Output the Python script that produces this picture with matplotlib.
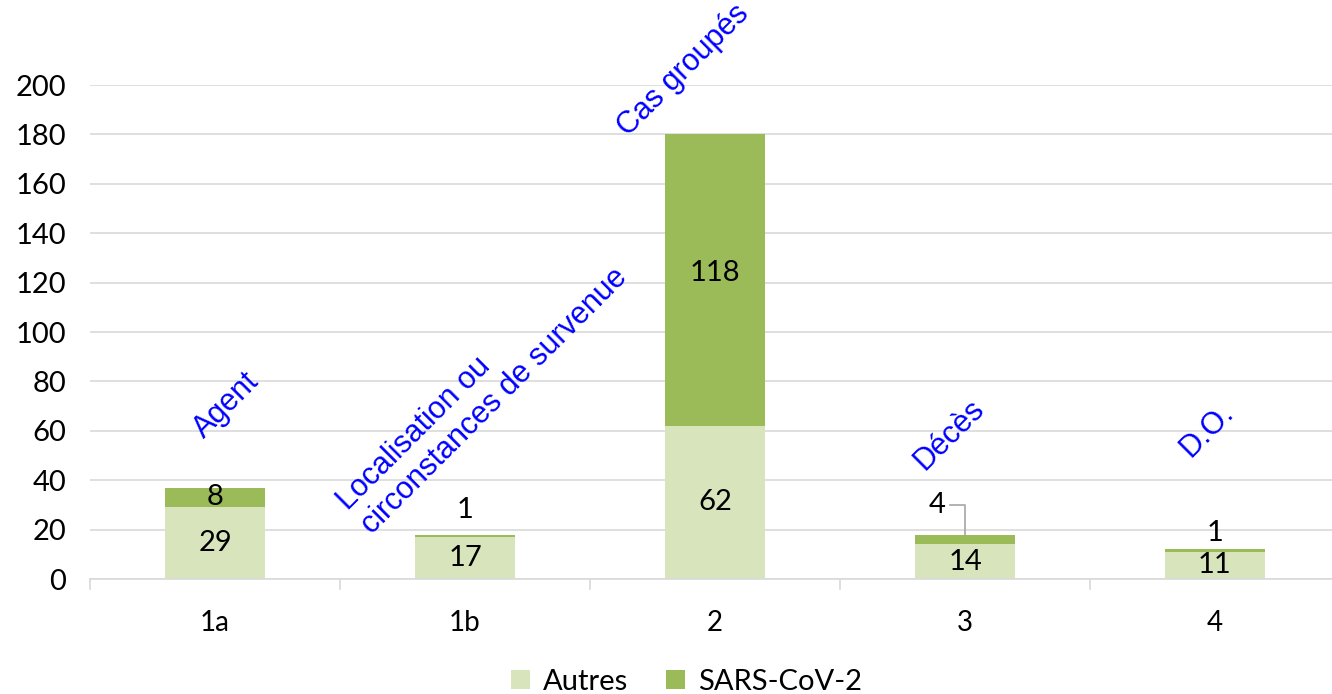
import matplotlib
matplotlib.use('Agg')
import matplotlib.pyplot as plt
import numpy as np

plt.rcParams['font.family'] = ['Lato', 'DejaVu Sans']

categories = ['1a', '1b', '2', '3', '4']
autres = [29, 17, 62, 14, 11]
sars = [8, 1, 118, 4, 1]
themes = ['Agent', 'Localisation ou\ncirconstances de survenue', 'Cas groupés', 'Décès', 'D.O.']

C_LIGHT = '#D8E4BC'
C_DARK = '#9BBB59'
GRID = '#D9D9D9'

fig = plt.figure(figsize=(13.32, 6.94), dpi=100)
ax = fig.add_axes([0.0676, 0.1657, 0.9384, 0.7118])

x = np.arange(len(categories))
ax.bar(x, autres, width=0.4, color=C_LIGHT, label='Autres', zorder=2)
ax.bar(x, sars, width=0.4, bottom=autres, color=C_DARK, label='SARS-CoV-2', zorder=2)

ax.set_xlim(-0.5, len(categories) - 0.5)
ax.set_ylim(0, 200)
ax.set_yticks(np.arange(0, 201, 20))
ax.yaxis.grid(True, color=GRID, linewidth=1.2, zorder=0)
ax.set_axisbelow(True)
for s in ['top', 'right', 'left']:
    ax.spines[s].set_visible(False)
ax.spines['bottom'].set_color(GRID)
ax.spines['bottom'].set_linewidth(1.2)
ax.tick_params(axis='y', length=0, labelsize=21, pad=17)
ax.set_xticks(x)
ax.set_xticklabels(categories, fontsize=20)
ax.tick_params(axis='x', length=0, pad=22)
# traits de séparation des catégories
for b in np.arange(-0.5, len(categories), 1.0):
    ax.plot([b, b], [0, -4], color=GRID, lw=1.2, clip_on=False)

# étiquettes de valeurs
fs = 21
for i in range(len(categories)):
    ax.text(x[i], autres[i] / 2, str(autres[i]), ha='center', va='center', fontsize=fs, zorder=3)
# SARS-CoV-2
ax.text(x[0], autres[0] + sars[0] / 2, str(sars[0]), ha='center', va='center', fontsize=fs, zorder=3)
ax.text(x[2], autres[2] + sars[2] / 2 + 3, str(sars[2]), ha='center', va='center', fontsize=fs, zorder=3)
ax.text(x[1], autres[1] + sars[1] + 10, str(sars[1]), ha='center', va='center', fontsize=fs, zorder=3)
ax.text(x[4], autres[4] + sars[4] + 6.5, str(sars[4]), ha='center', va='center', fontsize=fs, zorder=3)
top3 = autres[3] + sars[3]
ax.text(x[3] - 0.11, top3 + 12, str(sars[3]), ha='center', va='center', fontsize=fs, zorder=3)
ax.plot([x[3] - 0.06, x[3], x[3]], [top3 + 12, top3 + 12, top3], color='#A6A6A6', lw=1.2, zorder=3)

# thèmes en bleu
theme_pos = [(0.044, 70.4), (1.07, 76.9), (1.872, 206.0), (2.936, 58.3), (3.968, 60.3)]
for t, (tx, ty) in zip(themes, theme_pos):
    ax.text(tx, ty, t, rotation=45, ha='center', va='center', multialignment='left',
            color='#0000FF', fontsize=22, family=['Liberation Sans', 'DejaVu Sans'],
            clip_on=False, zorder=4, linespacing=1.15)

ax.legend(loc='center', bbox_to_anchor=(0.477, -0.208), ncol=2, frameon=False,
          fontsize=21, handlelength=0.65, handleheight=0.65, columnspacing=1.3,
          handletextpad=0.45, borderpad=0.1)

fig.savefig('out.png', dpi=100)
